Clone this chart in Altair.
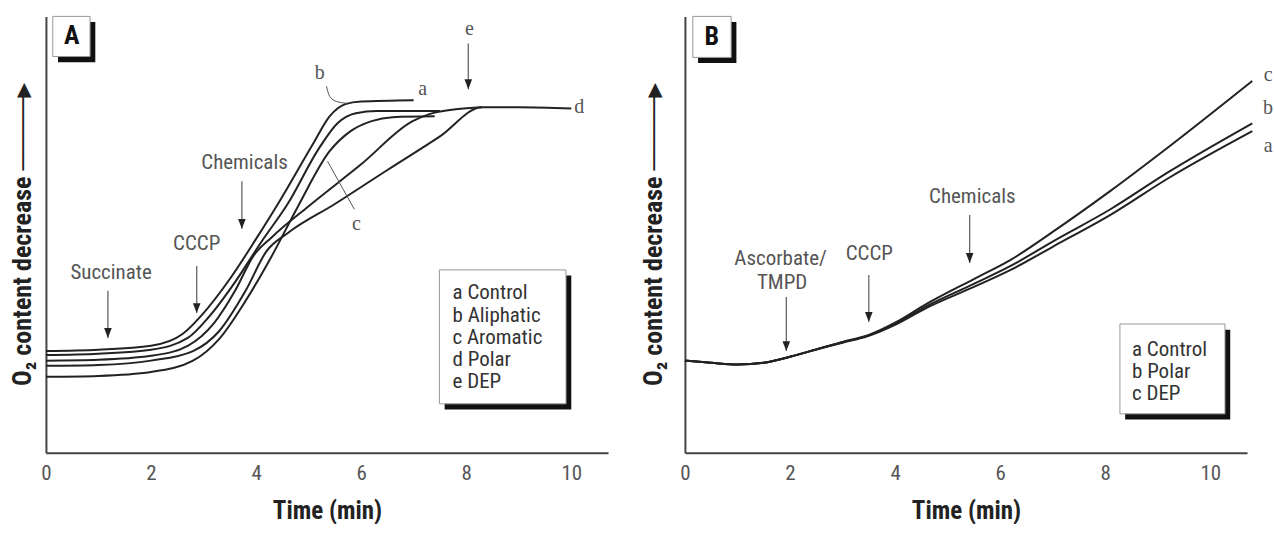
import altair as alt
import pandas as pd

COND = "'Roboto Condensed', 'Liberation Sans Narrow', Roboto, sans-serif"
SERIF = "'Liberation Serif', 'DejaVu Serif', serif"
X_MAX = 10.7
Y_TITLE = "O\u2082 content decrease \u2500\u2500\u2500\u2500\u25B8"
X_TICKS = [0, 2, 4, 6, 8, 10]

# ---------------- Panel A : curves ----------------
A_a_t = [0, 1, 2, 2.7, 3.1, 3.6, 4.1, 4.6, 5.2, 5.55, 5.9, 6.3, 7.5]
A_a_y = [22.4, 22.7, 23.6, 26.3, 31.1, 39.1, 48.3, 57.0, 69.8, 75.5, 77.8, 78.3, 78.3]
A_b_t = [0, 1, 2, 2.6, 3.0, 3.5, 4.0, 4.45, 5.08, 5.4, 5.7, 6.0, 7.0]
A_b_y = [23.3, 23.6, 24.5, 27.2, 32.0, 39.8, 49.0, 57.7, 70.7, 77.1, 79.9, 80.5, 80.8]
A_c_t = [0, 1, 2, 2.8, 3.3, 3.8, 4.3, 4.8, 5.4, 5.8, 6.2, 6.6, 7.4]
A_c_y = [17.4, 17.6, 18.5, 21.1, 26.1, 34.8, 45.1, 56.5, 69.1, 73.7, 76.0, 76.9, 77.1]
A_d_t = [0, 1, 2, 2.8, 3.3, 3.8, 4.2, 4.6, 5.5, 6.5, 7.5, 8.3, 9, 10]
A_d_y = [19.9, 20.1, 21.1, 23.3, 27.9, 37.1, 46.2, 50.3, 57.0, 64.8, 72.5, 79.2, 79.2, 78.9]
A_e_t = [0, 1, 2, 2.7, 3.2, 3.6, 3.95, 4.3, 5.0, 6.0, 6.98, 7.3, 7.8, 8.3]
A_e_y = [21.1, 21.3, 22.2, 24.5, 29.7, 37.1, 45.1, 49.4, 56.5, 66.1, 76.0, 77.6, 78.7, 79.2]

A_notes = ["Succinate", "CCCP", "Chemicals"]
A_notes_t = [1.24, 2.87, 3.78]
A_notes_y = [41.2, 47.8, 66.4]
A_arrow_t = [1.18, 2.87, 3.73, 8.04]
A_arrow_top = [37.1, 42.8, 62.2, 93.8]
A_arrow_tip = [26.3, 32.0, 51.3, 83.3]
A_lab = ["b", "a", "e", "d", "c"]
A_lab_t = [5.21, 7.17, 8.06, 10.15, 5.91]
A_lab_y = [87.0, 83.3, 97.0, 79.2, 52.4]
A_lead_b_t = [5.34, 5.40, 5.53, 5.72]
A_lead_b_y = [84.0, 81.7, 80.5, 80.1]
A_lead_c_t = [5.87, 5.36]
A_lead_c_y = [55.8, 66.8]
A_legend = ["a Control", "b Aliphatic", "c Aromatic", "d Polar", "e DEP"]
A_legend_y = [36.6, 31.4, 26.3, 21.3, 16.2]
A_legend_t = 7.74
A_legend_box = [7.49, 9.90, 41.9, 11.2]
A_letter_box = [0.13, 0.84, 100.0, 90.8]
A_letter_pos = [0.49, 95.4]

# ---------------- Panel B : curves ----------------
B_t = [0, 0.5, 1, 1.5, 2, 2.6, 3.0, 3.5, 4, 4.6, 5.5, 6.2, 7, 8.1, 9.2, 10.8]
B_a_y = [21.1, 20.6, 20.2, 20.6, 22.0, 24.0, 25.2, 26.8, 29.3, 33.2, 38.0, 41.9, 47.2, 54.5, 62.9, 73.7]
B_b_y = [21.1, 20.6, 20.2, 20.6, 22.0, 24.0, 25.3, 26.9, 29.5, 33.6, 38.7, 42.8, 48.4, 55.8, 64.3, 75.5]
B_c_y = [21.1, 20.6, 20.2, 20.6, 22.0, 24.0, 25.4, 27.0, 29.8, 34.1, 39.8, 44.2, 50.6, 60.0, 70.0, 85.2]

B_notes = ["Ascorbate/", "TMPD", "CCCP", "Chemicals"]
B_notes_t = [1.82, 1.85, 3.51, 5.47]
B_notes_y = [44.3, 38.9, 45.5, 58.6]
B_arrow_t = [1.93, 3.5, 5.42]
B_arrow_top = [35.7, 40.7, 54.5]
B_arrow_tip = [23.3, 30.0, 43.5]
B_lab = ["c", "b", "a"]
B_lab_t = [11.1, 11.1, 11.1]
B_lab_y = [86.6, 78.9, 70.3]
B_legend = ["a Control", "b Polar", "c DEP"]
B_legend_y = [23.6, 18.5, 13.5]
B_legend_t = 8.51
B_legend_box = [8.28, 10.28, 29.5, 8.9]
B_letter_box = [0.15, 0.88, 100.0, 90.6]
B_letter_pos = [0.51, 95.2]

SHADOW_DT = 0.10   # ~5 px
SHADOW_DY = 1.3    # ~5.5 px
ARROW_SHAPE = "M-0.85,-2.2L0.85,-2.2L0,0Z"


def curves_df(series):
    rows = []
    for name, ts, ys in series:
        for i, (t, y) in enumerate(zip(ts, ys)):
            rows.append({"s": name, "t": t, "y": y, "o": i})
    return pd.DataFrame(rows)


def panel(curves, notes, arrows, labels, leaders, legend, legend_box, letter_box, letter, y_pad):
    xs = alt.Scale(domain=[0, X_MAX], nice=False, zero=False)
    ys = alt.Scale(domain=[0, 100], nice=False, zero=False)
    x_axis = alt.Axis(values=X_TICKS, ticks=False, grid=False, domainColor="#444",
                      domainWidth=2, labelFont=COND, labelFontSize=21, labelColor="#555",
                      labelPadding=10, labelFlush=False, title="Time (min)", titleFont=COND,
                      titleFontSize=25, titleFontWeight="bold", titleColor="#222",
                      titlePadding=15)
    y_axis = alt.Axis(labels=False, ticks=False, grid=False, domainColor="#444",
                      domainWidth=2, title=Y_TITLE, titleFont=COND, titleFontSize=26,
                      titleFontWeight="bold", titleColor="#222", titlePadding=y_pad,
                      titleLimit=400)

    def X(f):
        return alt.X(f"{f}:Q", scale=xs, axis=x_axis)

    def Y(f):
        return alt.Y(f"{f}:Q", scale=ys, axis=y_axis)

    lines = alt.Chart(curves).mark_line(color="#222", strokeWidth=2, interpolate="monotone").encode(
        x=X("t"), y=Y("y"), detail="s:N", order="o:Q")

    lead = alt.Chart(leaders).mark_line(color="#555", strokeWidth=1, interpolate="monotone").encode(
        x=X("t"), y=Y("y"), detail="s:N", order="o:Q")

    shafts = alt.Chart(arrows).mark_rule(color="#666", strokeWidth=1.3).encode(
        x=X("t"), y=Y("top"), y2="tip:Q")
    heads = alt.Chart(arrows).mark_point(shape=ARROW_SHAPE, filled=True, color="#222",
                                         size=81, opacity=1).encode(x=X("t"), y=Y("tip"))

    note_txt = alt.Chart(notes).mark_text(font=COND, fontSize=21, color="#555",
                                          align="center", baseline="middle").encode(
        x=X("t"), y=Y("y"), text="txt:N")

    lab_txt = alt.Chart(labels).mark_text(font=SERIF, fontSize=20, color="#555",
                                          align="center", baseline="middle").encode(
        x=X("t"), y=Y("y"), text="txt:N")

    boxes = pd.DataFrame([
        {"t0": legend_box[0], "t1": legend_box[1], "y0": legend_box[2], "y1": legend_box[3]},
        {"t0": letter_box[0], "t1": letter_box[1], "y0": letter_box[2], "y1": letter_box[3]},
    ])
    shadow = boxes.copy()
    shadow["t0"] += SHADOW_DT
    shadow["t1"] += SHADOW_DT
    shadow["y0"] -= SHADOW_DY
    shadow["y1"] -= SHADOW_DY
    shadow_r = alt.Chart(shadow).mark_rect(color="#111").encode(
        x=X("t0"), x2="t1:Q", y=Y("y0"), y2="y1:Q")
    box_r = alt.Chart(boxes).mark_rect(fill="white", stroke="#999", strokeWidth=1).encode(
        x=X("t0"), x2="t1:Q", y=Y("y0"), y2="y1:Q")

    leg_txt = alt.Chart(legend).mark_text(font=COND, fontSize=21, color="#333",
                                          align="left", baseline="middle").encode(
        x=X("t"), y=Y("y"), text="txt:N")

    let_txt = alt.Chart(letter).mark_text(font=COND, fontSize=26, fontWeight="bold",
                                          color="#111", align="center",
                                          baseline="middle").encode(
        x=X("t"), y=Y("y"), text="txt:N")

    return alt.layer(lines, lead, shafts, heads, note_txt, lab_txt, shadow_r, box_r,
                     leg_txt, let_txt).properties(width=563, height=437)


curves_A = curves_df([("a", A_a_t, A_a_y), ("b", A_b_t, A_b_y), ("c", A_c_t, A_c_y),
                      ("d", A_d_t, A_d_y), ("e", A_e_t, A_e_y)])
curves_B = curves_df([("a", B_t, B_a_y), ("b", B_t, B_b_y), ("c", B_t, B_c_y)])

notes_A = pd.DataFrame({"txt": A_notes, "t": A_notes_t, "y": A_notes_y})
notes_B = pd.DataFrame({"txt": B_notes, "t": B_notes_t, "y": B_notes_y})
arrows_A = pd.DataFrame({"t": A_arrow_t, "top": A_arrow_top, "tip": A_arrow_tip})
arrows_B = pd.DataFrame({"t": B_arrow_t, "top": B_arrow_top, "tip": B_arrow_tip})
labels_A = pd.DataFrame({"txt": A_lab, "t": A_lab_t, "y": A_lab_y})
labels_B = pd.DataFrame({"txt": B_lab, "t": B_lab_t, "y": B_lab_y})
leaders_A = curves_df([("lb", A_lead_b_t, A_lead_b_y), ("lc", A_lead_c_t, A_lead_c_y)])
leaders_B = pd.DataFrame({"s": ["none"], "t": [None], "y": [None], "o": [0]})
legend_A = pd.DataFrame({"txt": A_legend, "t": [A_legend_t] * len(A_legend), "y": A_legend_y})
legend_B = pd.DataFrame({"txt": B_legend, "t": [B_legend_t] * len(B_legend), "y": B_legend_y})
letter_A = pd.DataFrame({"txt": ["A"], "t": [A_letter_pos[0]], "y": [A_letter_pos[1]]})
letter_B = pd.DataFrame({"txt": ["B"], "t": [B_letter_pos[0]], "y": [B_letter_pos[1]]})

pA = panel(curves_A, notes_A, arrows_A, labels_A, leaders_A, legend_A, A_legend_box,
           A_letter_box, letter_A, 10)
pB = panel(curves_B, notes_B, arrows_B, labels_B, leaders_B, legend_B, B_legend_box,
           B_letter_box, letter_B, 18)

chart = alt.hconcat(pA, pB, spacing=33).properties(
    padding={"left": 10, "top": 15, "right": 0, "bottom": 0},
    background="white",
).configure_view(stroke=None)

chart.save("out.html", embed_options={"renderer": "svg", "actions": False})
